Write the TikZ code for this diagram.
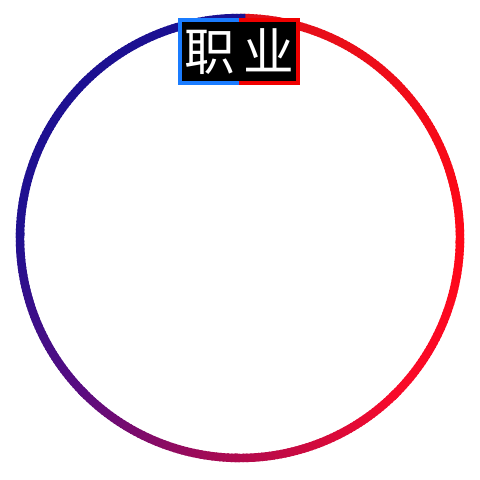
\documentclass[tikz,border=0pt]{standalone}
\usepackage{fontspec}
\newfontfamily\cjk{Noto Sans CJK SC}
\usepackage{tikz}
\usetikzlibrary{calc}
\definecolor{ringa}{HTML}{E0101A}
\definecolor{ringb}{HTML}{FF0818}
\definecolor{ringc}{HTML}{F80A2A}
\definecolor{ringd}{HTML}{B00A4E}
\definecolor{ringe}{HTML}{5A0C80}
\definecolor{ringf}{HTML}{201090}
\definecolor{ringg}{HTML}{1A1092}
\definecolor{tagblue}{HTML}{1A7CFF}
\definecolor{tagred}{HTML}{F00000}
\tikzset{
    ring/.style={line width=6pt,line cap=butt},
    tag/.style={fill=black,text=white,minimum width=2.95cm,minimum height=1.575cm,inner sep=0pt,font=\cjk\fontsize{36}{36}\selectfont},
    tagedge/.style={line width=2.8pt},
}

\begin{document}
\begin{tikzpicture}
    \useasboundingbox (0,0) rectangle (12,12);
    \coordinate (c) at (6,6.05);
    % ring, clockwise from the top
    \foreach \ta/\tb/\ca/\cb in {0/90/ringa/ringb,90/135/ringb/ringc,135/180/ringc/ringd,180/225/ringd/ringe,225/270/ringe/ringf,270/360/ringf/ringg}{
        \foreach \t in {\ta,...,\tb}{
            \pgfmathtruncatemacro{\p}{100*(\t-\ta)/(\tb-\ta)}
            \draw[ring,\cb!\p!\ca] ($(c)+({90-\t}:5.5)$) arc[start angle=90-\t,end angle=90-\t-1.4,radius=5.5];
        }
    }

    \node[tag] (job) at (5.975,10.71) {职\,业};
    \draw[tagedge,tagblue] (job.north) -| (job.south west) -- (job.south);
    \draw[tagedge,tagred] (job.north) -| (job.south east) -- (job.south);
\end{tikzpicture}
\end{document}
